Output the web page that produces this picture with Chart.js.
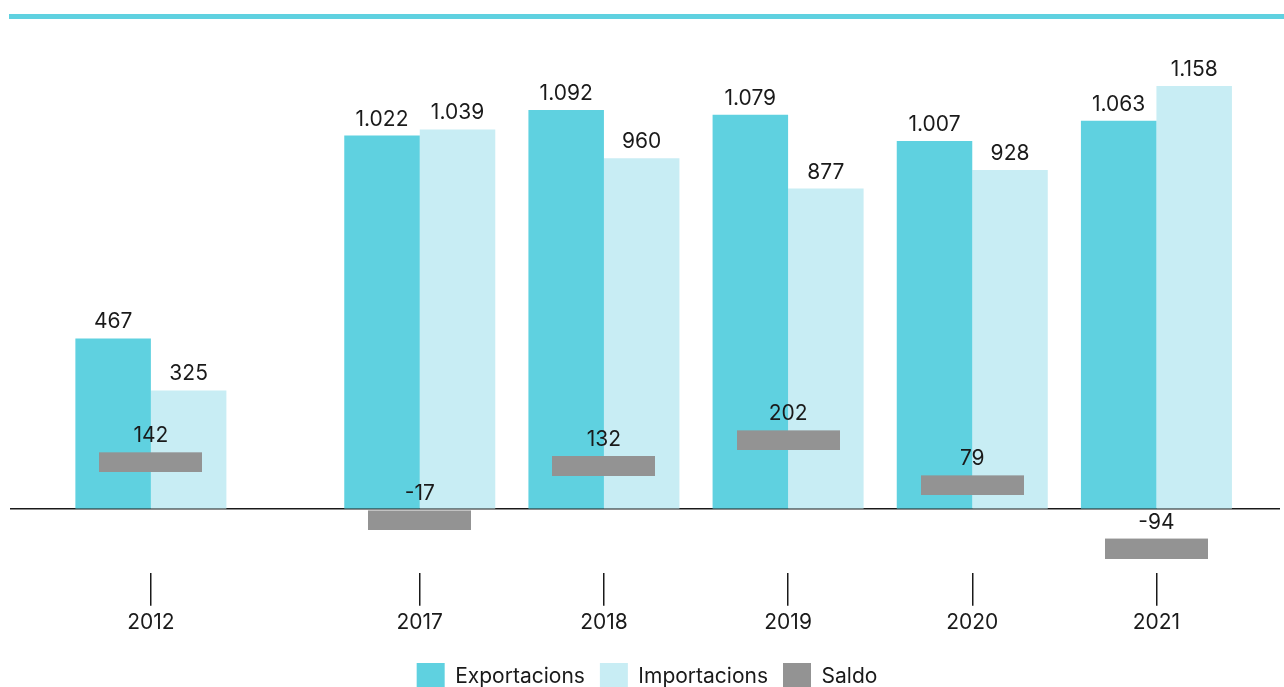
<!DOCTYPE html>
<html>
<head>
<meta charset="utf-8">
<script src="https://cdn.jsdelivr.net/npm/chart.js@4"></script>
<style>
  html, body { margin: 0; padding: 0; background: #fff; }
  #wrap { width: 1284px; height: 687px; }
</style>
</head>
<body>
<div id="wrap"><canvas id="chart"></canvas></div>
<script>
const years = ["2012", "2017", "2018", "2019", "2020", "2021"];
const exportacions = [467, 1022, 1092, 1079, 1007, 1063];
const importacions = [325, 1039, 960, 877, 928, 1158];
const saldo = [142, -17, 132, 202, 79, -94];

// 2012 stands apart from the rest, a bit wider gap
const xPos = years.map((y, i) => (i === 0 ? 0 : i + 0.46));

const TEAL = "#5fd1e0";
const LIGHT = "#c8edf4";
const GREY = "#939393";
const INK = "#1a1a1a";
const FONT = { family: "Inter", size: 21 };

const fmt = (v) => String(v).replace(/\B(?=(\d{3})+(?!\d))/g, ".");

// grey band used as the marker for the balance
const saldoMark = document.createElement("canvas");
saldoMark.width = 103;
saldoMark.height = 30;
const mctx = saldoMark.getContext("2d");
mctx.fillStyle = GREY;
mctx.fillRect(0, 10, 103, 20);

const topLine = {
  id: "topLine",
  beforeDraw(chart) {
    const ctx = chart.ctx;
    ctx.save();
    ctx.fillStyle = TEAL;
    ctx.fillRect(9, 14, chart.width - 9, 5);
    ctx.restore();
  },
};

const valueLabels = {
  id: "valueLabels",
  afterDatasetsDraw(chart) {
    const ctx = chart.ctx;
    ctx.save();
    ctx.font = "21px Inter";
    ctx.fillStyle = INK;
    ctx.textAlign = "center";
    ctx.textBaseline = "alphabetic";
    chart.data.datasets.forEach((ds, di) => {
      const meta = chart.getDatasetMeta(di);
      meta.data.forEach((el, i) => {
        const y = ds.type === "line" ? el.y - 15 : el.y - 10;
        ctx.fillText(fmt(ds.data[i].y), el.x, y);
      });
    });
    ctx.restore();
  },
};

new Chart(document.getElementById("chart"), {
  type: "bar",
  data: {
    datasets: [
      {
        label: "Exportacions",
        data: exportacions.map((v, i) => ({ x: xPos[i], y: v })),
        backgroundColor: TEAL,
        borderWidth: 0,
        order: 1,
      },
      {
        label: "Importacions",
        data: importacions.map((v, i) => ({ x: xPos[i], y: v })),
        backgroundColor: LIGHT,
        borderWidth: 0,
        order: 1,
      },
      {
        type: "line",
        label: "Saldo",
        data: saldo.map((v, i) => ({ x: xPos[i], y: v })),
        showLine: false,
        pointStyle: saldoMark,
        backgroundColor: GREY,
        borderColor: GREY,
        borderWidth: 0,
        order: 0,
      },
    ],
  },
  options: {
    responsive: true,
    maintainAspectRatio: false,
    animation: false,
    categoryPercentage: 0.82,
    barPercentage: 1,
    layout: { padding: { left: 10, right: 0, top: 34, bottom: -13 } },
    plugins: {
      tooltip: { enabled: false },
      legend: {
        position: "bottom",
        labels: {
          boxWidth: 28,
          boxHeight: 27,
          padding: 15,
          color: INK,
          font: FONT,
          sort: (a, b) => a.datasetIndex - b.datasetIndex,
        },
      },
    },
    scales: {
      x: {
        type: "linear",
        offset: false,
        min: -0.765,
        max: 6.131,
        afterBuildTicks: (axis) => {
          axis.ticks = xPos.map((v) => ({ value: v }));
        },
        afterFit: (axis) => {
          axis.height += 9;
        },
        ticks: {
          callback: (v, i) => years[i],
          color: INK,
          font: FONT,
          padding: 4,
          maxRotation: 0,
          autoSkip: false,
        },
        grid: {
          offset: false,
          drawOnChartArea: false,
          drawTicks: true,
          tickLength: 33,
          color: INK,
          lineWidth: 1.5,
        },
        border: { display: false },
      },
      y: {
        min: -174,
        max: 1300,
        ticks: { display: false, stepSize: 100 },
        grid: {
          drawTicks: false,
          color: (c) => (c.tick && c.tick.value === 0 ? INK : "transparent"),
          lineWidth: 1.5,
        },
        border: { display: false },
      },
    },
  },
  plugins: [topLine, valueLabels],
});
</script>
</body>
</html>
